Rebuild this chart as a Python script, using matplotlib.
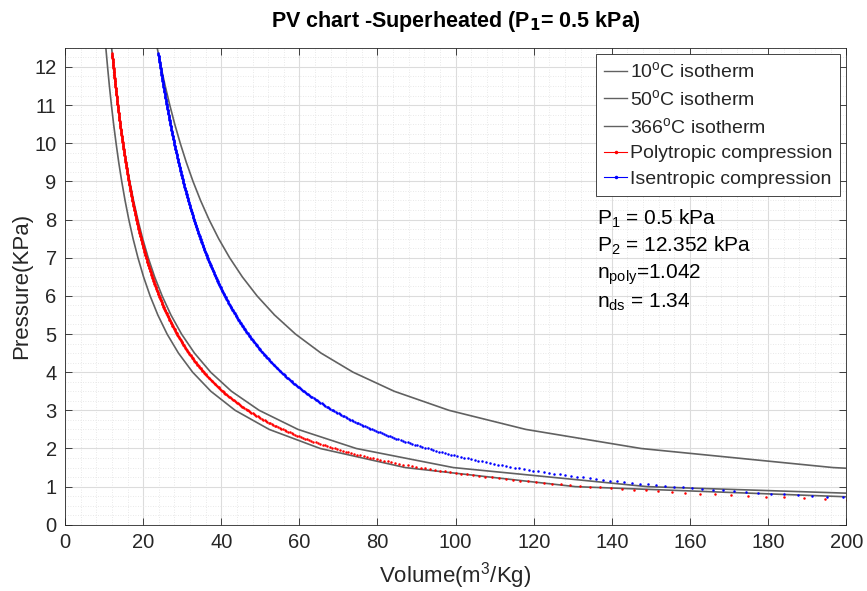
import numpy as np
import matplotlib
matplotlib.use("Agg")
import matplotlib.pyplot as plt
from matplotlib.lines import Line2D
from matplotlib.ticker import MultipleLocator

plt.rcParams['font.family'] = ['Liberation Sans', 'DejaVu Sans']
plt.rcParams['mathtext.default'] = 'regular'

# -----------------------------
# Daten
# -----------------------------
# Isothermen (Tabellenpunkte, Druck in kPa, spez. Volumen in m3/kg)
p_iso = [0.5, 1, 1.5, 2, 2.5, 3, 3.5, 4, 4.5, 5, 5.5, 6, 6.5, 7, 7.5, 8,
         8.5, 9, 9.5, 10, 10.5, 11, 11.5, 12, 12.5, 13]
v_10C = [261.34, 130.67, 87.11, 65.34, 52.27, 43.56, 37.33, 32.67, 29.04,
         26.13, 23.76, 21.78, 20.10, 18.67, 17.42, 16.33, 15.37, 14.52,
         13.75, 13.07, 12.44, 11.88, 11.36, 10.89, 10.45, 10.05]
v_50C = [298.26, 149.13, 99.42, 74.57, 59.65, 49.71, 42.61, 37.28, 33.14,
         29.83, 27.11, 24.86, 22.94, 21.30, 19.88, 18.64, 17.54, 16.57,
         15.70, 14.91, 14.20, 13.56, 12.97, 12.43, 11.93, 11.47]
v_366C = [589.94, 294.97, 196.65, 147.49, 117.99, 98.32, 84.28, 73.74, 65.55,
          58.99, 53.63, 49.16, 45.38, 42.14, 39.33, 36.87, 34.70, 32.77,
          31.05, 29.50, 28.09, 26.82, 25.65, 24.58, 23.60, 22.69]

# Zustandsänderungen (Werte aus der Beschriftung)
P1 = 0.5        # kPa
P2 = 12.352     # kPa
v1 = 261.34     # m3/kg (10°C, 0.5 kPa)
n_poly = 1.042
n_ds = 1.34
dP = 0.02       # Schrittweite der Druckwerte

# -----------------------------
# Kurven
# -----------------------------
p_proc = np.arange(P1, P2 + dP / 2, dP)
v_poly = v1 * (P1 / p_proc) ** (1 / n_poly)
v_isen = v1 * (P1 / p_proc) ** (1 / n_ds)

fig = plt.figure(figsize=(8.67, 5.91), dpi=100)
ax = fig.add_axes([0.075, 0.112, 0.901, 0.807])

gray = '#616161'
ax.plot(v_10C, p_iso, color=gray, lw=1.2)
ax.plot(v_50C, p_iso, color=gray, lw=1.2)
ax.plot(v_366C, p_iso, color=gray, lw=1.2)
ax.plot(v_poly, p_proc, 'o', color='#ff0000', ms=1.8, mew=0)
ax.plot(v_isen, p_proc, 'o', color='#0000ff', ms=1.8, mew=0)

ax.set_xlim(0, 200)
ax.set_ylim(0, 12.5)
ax.xaxis.set_major_locator(MultipleLocator(20))
ax.yaxis.set_major_locator(MultipleLocator(1))
ax.xaxis.set_minor_locator(MultipleLocator(4))
ax.yaxis.set_minor_locator(MultipleLocator(0.25))
ax.grid(which='major', color='#dcdcdc', lw=0.8)
ax.grid(which='minor', color='#e2e2e2', lw=0.6, ls=(0, (1, 2)))
ax.set_axisbelow(True)

txt = '#262626'
ax.tick_params(which='both', direction='in', top=True, right=True,
               labelsize=14.5, colors=txt)
ax.tick_params(which='minor', length=0)
ax.tick_params(which='major', length=5, width=0.6, pad=6)
for s in ax.spines.values():
    s.set_color('#262626')
    s.set_linewidth(0.6)

ax.set_xlabel('Volume(m$^3$/Kg)', fontsize=16, color=txt, labelpad=6)
ax.set_ylabel('Pressure(KPa)', fontsize=16, color=txt, labelpad=2)
ax.set_title('PV chart -Superheated (P$_{\\bf 1}$= 0.5 kPa)', fontsize=15.5,
             fontweight='bold', pad=15)

handles = [
    Line2D([], [], color=gray, lw=1.0),
    Line2D([], [], color=gray, lw=1.0),
    Line2D([], [], color=gray, lw=1.0),
    Line2D([], [], color='r', lw=0.8, marker='.', ms=3),
    Line2D([], [], color='b', lw=0.8, marker='.', ms=3),
]
labels = ['10$^o$C isotherm', '50$^o$C isotherm', '366$^o$C isotherm',
          'Polytropic compression', 'Isentropic compression']
leg = ax.legend(handles, labels, loc='upper right', fontsize=14,
                handlelength=1.2, handletextpad=0.15, labelspacing=0.4,
                borderpad=0.4, borderaxespad=0.3, fancybox=False,
                framealpha=1, edgecolor='#262626')
leg.get_frame().set_linewidth(0.6)
for t in leg.get_texts():
    t.set_color(txt)

ax.text(0.681, 0.665, 'P$_1$ = 0.5 kPa\nP$_2$ = 12.352 kPa\nn$_{poly}$=1.042\nn$_{ds}$ = 1.34',
        transform=ax.transAxes, fontsize=15, va='top', ha='left',
        linespacing=1.3)

fig.savefig('out.png', dpi=100)
